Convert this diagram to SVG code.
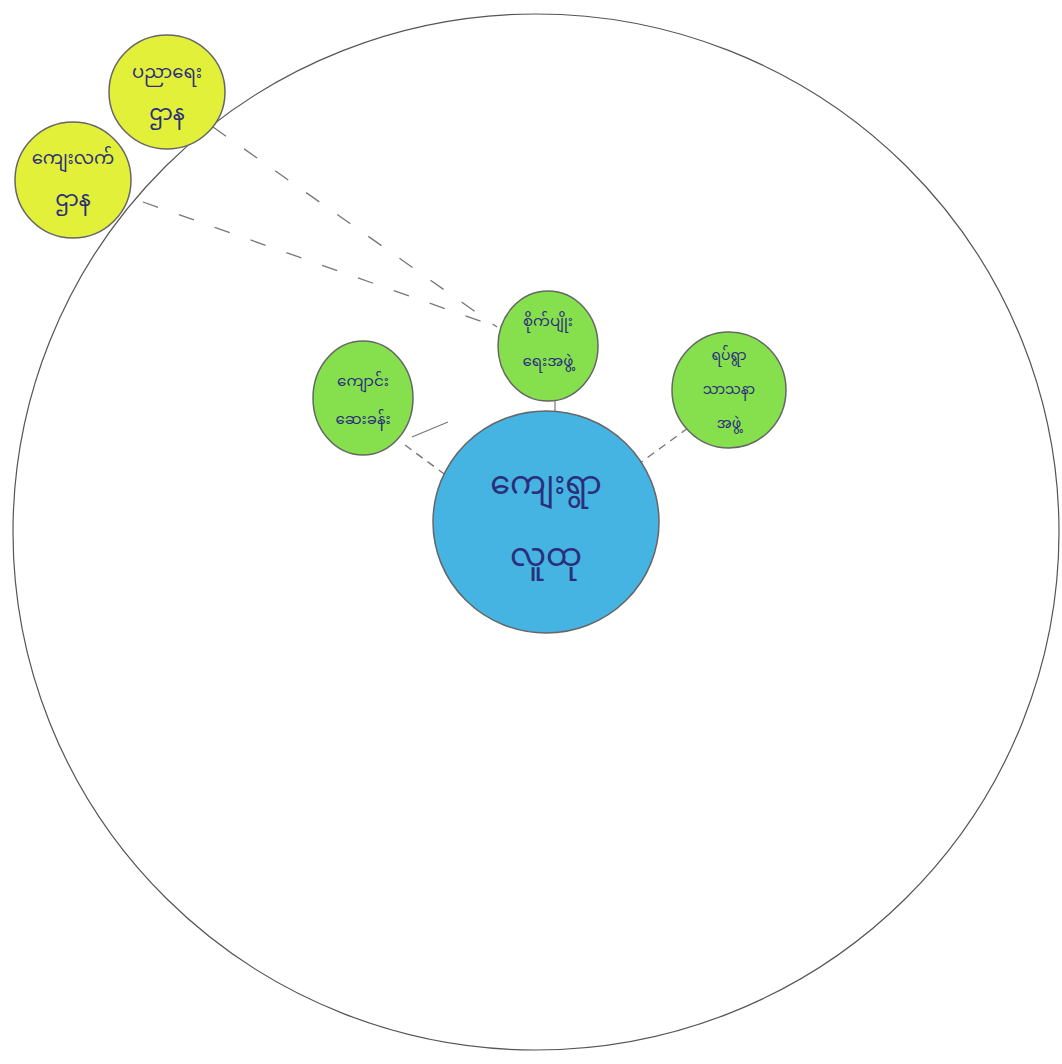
<svg xmlns="http://www.w3.org/2000/svg" width="1062" height="1064" viewBox="0 0 1062 1064">
<style>
.bg{fill:#ffffff}
.outer{fill:none;stroke:#555;stroke-width:1.2}
.yellow{fill:#e2f03a;stroke:#666;stroke-width:1.5}
.green{fill:#86e04e;stroke:#666;stroke-width:1.5}
.blue{fill:#45b4e2;stroke:#666;stroke-width:1.5}
.t{font-family:"Noto Sans Myanmar","Noto Sans",sans-serif;fill:#2b2f7a;text-anchor:middle}
.solid{stroke:#777;stroke-width:1.2;fill:none}
.dash{stroke:#777;stroke-width:1.3;fill:none;stroke-dasharray:16 22}
.dash2{stroke:#777;stroke-width:1.4;fill:none;stroke-dasharray:8 6}
</style>
<rect class="bg" x="0" y="0" width="1062" height="1064"/>
<g id="outer-ring">
<ellipse class="outer" cx="536" cy="532" rx="523" ry="518"/>
</g>
<g id="connectors">
<line class="dash" x1="213" y1="127" x2="497" y2="327"/>
<line class="dash" x1="143" y1="202" x2="497" y2="327"/>
<line class="solid" x1="555" y1="400" x2="555" y2="413"/>
<line class="solid" x1="412" y1="437" x2="448" y2="422"/>
<line class="dash2" x1="405" y1="445" x2="447" y2="476"/>
<line class="dash2" x1="688" y1="428" x2="640" y2="463"/>
</g>
<g id="node-education-dept">
<ellipse class="yellow" cx="167" cy="92" rx="58" ry="57"/>
<text class="t" x="167" y="78" font-size="18">ပညာရေး</text>
<text class="t" x="167" y="120" font-size="21">ဌာန</text>
</g>
<g id="node-rural-dept">
<ellipse class="yellow" cx="73" cy="180" rx="58" ry="58"/>
<text class="t" x="73" y="164" font-size="18">ကျေးလက်</text>
<text class="t" x="73" y="206" font-size="21">ဌာန</text>
</g>
<g id="node-farming-group">
<ellipse class="green" cx="548" cy="346" rx="50" ry="55"/>
<text class="t" x="548" y="326" font-size="15">စိုက်ပျိုး</text>
<text class="t" x="548" y="366" font-size="15">ရေးအဖွဲ့</text>
</g>
<g id="node-school-clinic">
<ellipse class="green" cx="363" cy="398" rx="50" ry="57"/>
<text class="t" x="363" y="386" font-size="15">ကျောင်း</text>
<text class="t" x="363" y="424" font-size="15">ဆေးခန်း</text>
</g>
<g id="node-religious-group">
<ellipse class="green" cx="729" cy="390" rx="57" ry="58"/>
<text class="t" x="729" y="360" font-size="14">ရပ်ရွာ</text>
<text class="t" x="729" y="394" font-size="14">သာသနာ</text>
<text class="t" x="729" y="428" font-size="14">အဖွဲ့</text>
</g>
<g id="node-village-community">
<ellipse class="blue" cx="546" cy="522" rx="113" ry="111"/>
<text class="t" x="546" y="494" font-size="32">ကျေးရွာ</text>
<text class="t" x="546" y="566" font-size="32">လူထု</text>
</g>
</svg>
